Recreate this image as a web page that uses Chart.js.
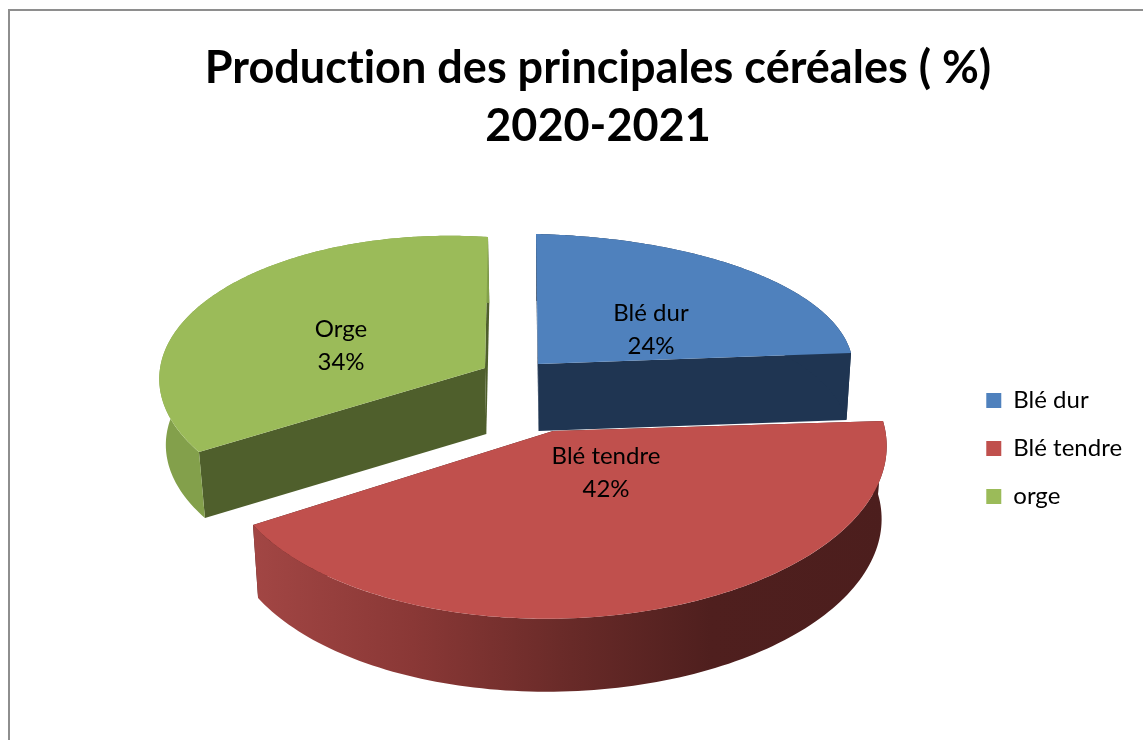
<!DOCTYPE html>
<html lang="fr">
<head>
<meta charset="utf-8">
<title>Production des principales céréales</title>
<script src="https://cdn.jsdelivr.net/npm/chart.js@4/dist/chart.umd.min.js"></script>
<style>
  html, body { margin: 0; padding: 0; background: #fff; overflow: hidden; }
  #wrap { position: relative; width: 1143px; height: 740px; }
</style>
</head>
<body>
<div id="wrap"><canvas id="chart"></canvas></div>
<script>
const titleLines = ['Production des principales céréales ( %)', '2020-2021'];
const legendNames = ['Blé dur', 'Blé tendre', 'orge'];
const sliceNames = ['Blé dur', 'Blé tendre', 'Orge'];
const shares = [24, 42, 34];
const topColors = ['#4f81bd', '#c0504d', '#9bbb59'];

// where each slice lands in the tilted view: apex, first cut, middle of the rim, last cut
const sliceViews = [
  { apex: [538, 364], first: [536, 234], mid: [750, 271], last: [851, 353], depth: 67, wall: '#1f3552', rim: '#1f3552', label: [651, 329] },
  { apex: [553, 431], first: [883, 421], mid: [658, 609], last: [253, 525], depth: 73, wall: '#4a1c1b', rim: null, label: [606, 472] },
  { apex: [485, 368], first: [199, 452], mid: [220, 291], last: [488, 237], depth: 66, wall: '#4f5f2c', rim: '#83a04b', label: [341, 345] }
];
const vanishX = 570;

function solve(a, b) {
  const n = b.length;
  for (let i = 0; i < n; i++) {
    let best = i;
    for (let r = i + 1; r < n; r++) if (Math.abs(a[r][i]) > Math.abs(a[best][i])) best = r;
    [a[i], a[best]] = [a[best], a[i]];
    [b[i], b[best]] = [b[best], b[i]];
    for (let r = 0; r < n; r++) {
      if (r === i) continue;
      const f = a[r][i] / a[i][i];
      for (let c = i; c < n; c++) a[r][c] -= f * a[i][c];
      b[r] -= f * b[i];
    }
  }
  return b.map((v, i) => v / a[i][i]);
}

// perspective map from the unit disc (apex at 0,0) to the page
function viewMap(arc, view) {
  const [x0, y0] = view.apex;
  const a = [], b = [];
  const pairs = [
    [arc.startAngle, view.first],
    [(arc.startAngle + arc.endAngle) / 2, view.mid],
    [arc.endAngle, view.last]
  ];
  pairs.forEach(([angle, [x, y]]) => {
    const u = Math.cos(angle), v = Math.sin(angle);
    a.push([u, v, 0, 0, -x * u, -x * v]); b.push(x - x0);
    a.push([0, 0, u, v, -y * u, -y * v]); b.push(y - y0);
  });
  const h = solve(a, b);
  return (u, v) => {
    const w = h[4] * u + h[5] * v + 1;
    return { x: (h[0] * u + h[1] * v + x0) / w, y: (h[2] * u + h[3] * v + y0) / w };
  };
}

function drop(p, view) {
  return { x: p.x - (p.x - vanishX) * 0.016, y: p.y + view.depth };
}

function redRim(ctx) {
  const g = ctx.createLinearGradient(253, 0, 889, 0);
  g.addColorStop(0, '#a24644');
  g.addColorStop(0.25, '#8a3836');
  g.addColorStop(0.5, '#682a28');
  g.addColorStop(0.72, '#4f1f1e');
  g.addColorStop(1, '#4c1e1d');
  return g;
}

function drawSides(ctx, arc, view, map) {
  const at = angle => map(Math.cos(angle), Math.sin(angle));
  const apex = map(0, 0);
  const low = drop(apex, view);

  // the two straight cut faces
  ctx.fillStyle = view.wall;
  [arc.startAngle, arc.endAngle].forEach(a => {
    const p = at(a);
    const q = drop(p, view);
    ctx.beginPath();
    ctx.moveTo(apex.x, apex.y);
    ctx.lineTo(p.x, p.y);
    ctx.lineTo(q.x, q.y);
    ctx.lineTo(low.x, low.y);
    ctx.closePath();
    ctx.fill();
  });

  // the curved outer band
  const steps = 120;
  const span = arc.endAngle - arc.startAngle;
  ctx.beginPath();
  for (let i = 0; i <= steps; i++) {
    const p = at(arc.startAngle + span * i / steps);
    ctx.lineTo(p.x, p.y);
  }
  for (let i = steps; i >= 0; i--) {
    const p = drop(at(arc.startAngle + span * i / steps), view);
    ctx.lineTo(p.x, p.y);
  }
  ctx.closePath();
  ctx.fillStyle = view.rim || redRim(ctx);
  ctx.fill();
}

// let the library draw its arc, with the path calls sent through the view map
function drawMapped(ctx, arc, map) {
  const r = arc.outerRadius;
  const place = (x, y) => map((x - arc.x) / r, (y - arc.y) / r);
  const line = CanvasRenderingContext2D.prototype.lineTo;
  ctx.lineTo = (x, y) => {
    const p = place(x, y);
    line.call(ctx, p.x, p.y);
  };
  ctx.arc = (x, y, radius, from, to) => {
    const steps = radius > 0 ? 120 : 1;
    for (let i = 0; i <= steps; i++) {
      const a = from + (to - from) * i / steps;
      ctx.lineTo(x + radius * Math.cos(a), y + radius * Math.sin(a));
    }
  };
  arc.draw(ctx);
  delete ctx.lineTo;
  delete ctx.arc;
}

const tiltedPie = {
  id: 'tiltedPie',
  beforeDraw(chart) {
    const ctx = chart.ctx;
    ctx.letterSpacing = '0.01px';
    ctx.save();
    ctx.strokeStyle = '#8e8e8e';
    ctx.lineWidth = 2;
    ctx.strokeRect(9, 10, 1200, 800);
    ctx.restore();
  },
  beforeDatasetsDraw(chart) {
    const ctx = chart.ctx;
    const arcs = chart.getDatasetMeta(0).data;
    [0, 2, 1].forEach(i => {
      const map = viewMap(arcs[i], sliceViews[i]);
      drawSides(ctx, arcs[i], sliceViews[i], map);
      drawMapped(ctx, arcs[i], map);
    });
    return false;
  },
  afterDraw(chart) {
    const ctx = chart.ctx;
    ctx.save();
    ctx.fillStyle = '#000';
    ctx.font = '24px Lato';
    ctx.textAlign = 'center';
    ctx.textBaseline = 'middle';
    sliceViews.forEach((view, i) => {
      ctx.fillText(sliceNames[i], view.label[0], view.label[1] - 16);
      ctx.fillText(shares[i] + '%', view.label[0], view.label[1] + 17);
    });
    ctx.restore();
  }
};

new Chart(document.getElementById('chart'), {
  type: 'pie',
  data: {
    labels: legendNames,
    datasets: [{
      data: shares,
      backgroundColor: topColors,
      borderWidth: 0
    }]
  },
  plugins: [tiltedPie],
  options: {
    responsive: true,
    maintainAspectRatio: false,
    animation: false,
    layout: { padding: { left: 64, right: 11, top: 0, bottom: 19 } },
    plugins: {
      title: {
        display: true,
        text: titleLines,
        color: '#000',
        font: { family: 'Lato', size: 45, weight: 'bold', lineHeight: 1.3 },
        padding: { top: 39, bottom: 20 }
      },
      legend: {
        position: 'right',
        fullSize: false,
        labels: {
          color: '#000',
          font: { family: 'Lato', size: 24 },
          boxWidth: 15,
          boxHeight: 15,
          padding: 24
        }
      },
      tooltip: { enabled: false }
    }
  }
});
</script>
</body>
</html>
